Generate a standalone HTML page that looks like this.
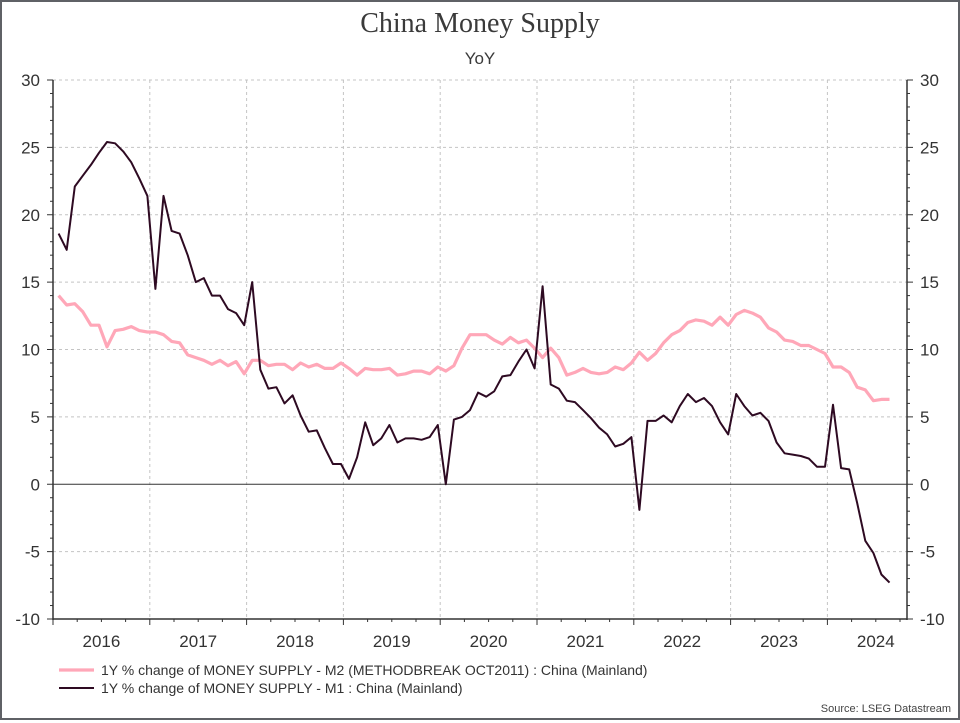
<!DOCTYPE html>
<html><head><meta charset="utf-8"><style>
html,body{margin:0;padding:0;background:#fff;}
#wrap{position:relative;width:960px;height:720px;box-sizing:border-box;border:2px solid #5f6166;font-family:"Liberation Sans",sans-serif;}
svg text{font-family:"Liberation Sans",sans-serif;}
svg text.serif{font-family:"Liberation Serif",serif;}
</style></head><body>
<div id="wrap">
<svg id="chart" width="956" height="716" viewBox="2 2 956 716" xmlns="http://www.w3.org/2000/svg"></svg>
</div>
<script>
const years = ["2016","2017","2018","2019","2020","2021","2022","2023","2024"];
const yTicks = [-10,-5,0,5,10,15,20,25,30];
const m2Values = [
14.0,13.3,13.4,12.8,11.8,11.8,10.2,11.4,11.5,11.7,11.4,11.3,
11.3,11.1,10.6,10.5,9.6,9.4,9.2,8.9,9.2,8.8,9.1,8.2,
9.2,9.2,8.8,8.9,8.9,8.5,9.0,8.7,8.9,8.6,8.6,9.0,
8.6,8.1,8.6,8.5,8.5,8.6,8.1,8.2,8.4,8.4,8.2,8.7,
8.4,8.8,10.1,11.1,11.1,11.1,10.7,10.4,10.9,10.5,10.7,10.1,
9.4,10.1,9.4,8.1,8.3,8.6,8.3,8.2,8.3,8.7,8.5,9.0,
9.8,9.2,9.7,10.5,11.1,11.4,12.0,12.2,12.1,11.8,12.4,11.8,
12.6,12.9,12.7,12.4,11.6,11.3,10.7,10.6,10.3,10.3,10.0,9.7,
8.7,8.7,8.3,7.2,7.0,6.2,6.3,6.3];
const m1Values = [
18.6,17.4,22.1,22.9,23.7,24.6,25.4,25.3,24.7,23.9,22.7,21.4,
14.5,21.4,18.8,18.6,17.0,15.0,15.3,14.0,14.0,13.0,12.7,11.8,
15.0,8.5,7.1,7.2,6.0,6.6,5.1,3.9,4.0,2.7,1.5,1.5,
0.4,2.0,4.6,2.9,3.4,4.4,3.1,3.4,3.4,3.3,3.5,4.4,
0.0,4.8,5.0,5.5,6.8,6.5,6.9,8.0,8.1,9.1,10.0,8.6,
14.7,7.4,7.1,6.2,6.1,5.5,4.9,4.2,3.7,2.8,3.0,3.5,
-1.9,4.7,4.7,5.1,4.6,5.8,6.7,6.1,6.4,5.8,4.6,3.7,
6.7,5.8,5.1,5.3,4.7,3.1,2.3,2.2,2.1,1.9,1.3,1.3,
5.9,1.2,1.1,-1.4,-4.2,-5.1,-6.7,-7.3];

const NS="http://www.w3.org/2000/svg";
const svg=document.getElementById('chart');
const L=53,R=907,T=80,B=619,yMin=-10,yMax=30,YEAR=96.8;
const yScale=v=>B-(v-yMin)/(yMax-yMin)*(B-T);
const xMonth=m=>L+m*YEAR/12;
const xPoint=i=>xMonth(i+1)-0.3*YEAR/12;
function mk(tag,attrs,parent){const e=document.createElementNS(NS,tag);for(const k in attrs)e.setAttribute(k,attrs[k]);(parent||svg).appendChild(e);return e;}

let t=mk('text',{x:480,y:32,'text-anchor':'middle','font-size':28,fill:'#3a3a3a','class':'serif'});


t.textContent='China Money Supply';
t=mk('text',{x:480,y:64,'text-anchor':'middle','font-size':17,fill:'#3a3a3a'});


t.textContent='YoY';

yTicks.forEach(v=>{
 if(v===yMin||v===0)return;
 const g=mk('line',{x1:L,x2:R,y1:yScale(v),y2:yScale(v),stroke:'#c4c4c4','stroke-dasharray':'3,3','stroke-width':1});
 
 
});
years.forEach((y,i)=>{
 if(i===0)return;
 const x=L+i*YEAR;
 const g=mk('line',{x1:x,x2:x,y1:T,y2:B,stroke:'#c4c4c4','stroke-dasharray':'3,3','stroke-width':1});
 
 
});
let z=mk('line',{x1:L,x2:R,y1:yScale(0),y2:yScale(0),stroke:'#333','stroke-width':1});



let a=mk('line',{x1:L,x2:L,y1:T,y2:B+1,stroke:'#333','stroke-width':1.5});


a=mk('line',{x1:R,x2:R,y1:T,y2:B+1,stroke:'#333','stroke-width':1.5});


a=mk('line',{x1:L,x2:R,y1:B,y2:B,stroke:'#333','stroke-width':1.5});



for(let v=yMin;v<=yMax;v++){
 const y=yScale(v),maj=v%5===0;
 mk('line',{x1:L-(maj?6:3),x2:L,y1:y,y2:y,stroke:'#333','stroke-width':1});
 mk('line',{x1:R,x2:R+(maj?6:3),y1:y,y2:y,stroke:'#333','stroke-width':1});
}
yTicks.forEach(v=>{
 let l=mk('text',{x:40,y:yScale(v)+6,'text-anchor':'end','font-size':17,fill:'#333'});
 
 
 l.textContent=v;
 l=mk('text',{x:920,y:yScale(v)+6,'text-anchor':'start','font-size':17,fill:'#333'});
 
 
 l.textContent=v;
});
for(let m=0;m<=105;m+=3){
 const x=xMonth(m);if(x>R)break;
 const maj=m%12===0;
 mk('line',{x1:x,x2:x,y1:B,y2:B+(maj?6:3),stroke:'#333','stroke-width':1});
}
years.forEach((y,i)=>{
 const l=mk('text',{x:L+(i+0.5)*YEAR,y:647,'text-anchor':'middle','font-size':17,fill:'#333'});
 
 
 l.textContent=y;
});

function line(vals,color,w,name){
 const d=vals.map((v,i)=>(i?'L':'M')+xPoint(i).toFixed(1)+','+yScale(v).toFixed(1)).join('');
 const p=mk('path',{d:d,fill:'none',stroke:color,'stroke-width':w,'stroke-linejoin':'round'});
 
 
}
line(m2Values,'#ffa7b8',3.2,'m2-series-line');
line(m1Values,'#2e0a22',2,'m1-series-line');

function leg(y,color,w,text,name){
 const g=mk('g',{});
 
 
 mk('line',{x1:59,x2:94,y1:y,y2:y,stroke:color,'stroke-width':w},g);
 const l=mk('text',{x:101,y:y+5,'font-size':14,fill:'#333'},g);
 l.textContent=text;
}
leg(670,'#ffa7b8',3.2,'1Y % change of MONEY SUPPLY - M2 (METHODBREAK OCT2011) : China (Mainland)','legend-entry-m2');
leg(688,'#2e0a22',2,'1Y % change of MONEY SUPPLY - M1 : China (Mainland)','legend-entry-m1');
t=mk('text',{x:951,y:712,'text-anchor':'end','font-size':11,fill:'#444'});


t.textContent='Source: LSEG Datastream';
</script>
</body></html>
